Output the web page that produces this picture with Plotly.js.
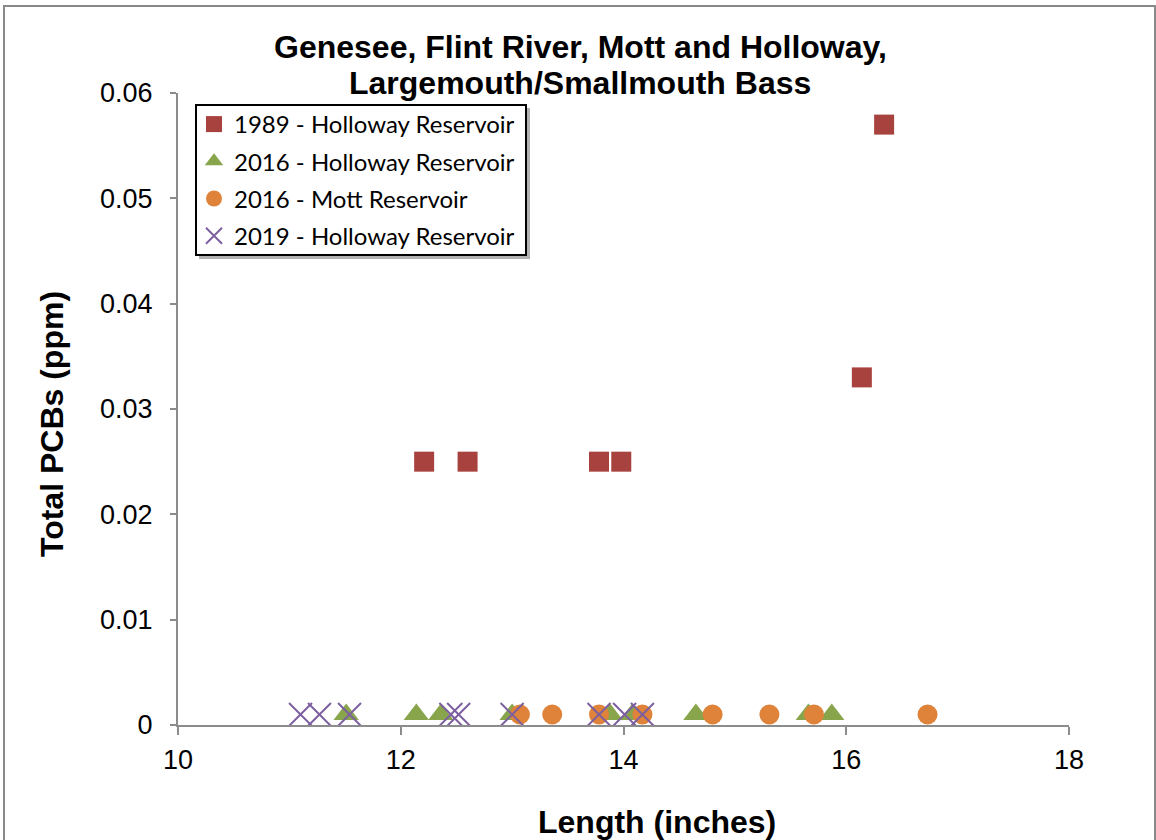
<!DOCTYPE html>
<html>
<head>
<meta charset="utf-8">
<script src="https://cdn.plot.ly/plotly-3.0.1.min.js"></script>
<style>html,body{margin:0;padding:0;background:#fff;}#chart{width:1156px;height:840px;}</style>
</head>
<body>
<div id="chart"></div>
<script>
// Data
const seriesNames = ["1989 - Holloway Reservoir", "2016 - Holloway Reservoir", "2016 - Mott Reservoir", "2019 - Holloway Reservoir"];

const holloway1989Length = [12.21, 12.60, 13.78, 13.98, 16.14, 16.34];
const holloway1989PCB    = [0.025, 0.025, 0.025, 0.025, 0.033, 0.057];

const holloway2016Length = [11.51, 12.14, 12.36, 13.00, 13.88, 14.08, 14.65, 15.66, 15.87];
const holloway2016PCB    = [0.001, 0.001, 0.001, 0.001, 0.001, 0.001, 0.001, 0.001, 0.001];

const mott2016Length = [13.07, 13.36, 13.78, 14.17, 14.80, 15.31, 15.71, 16.73];
const mott2016PCB    = [0.001, 0.001, 0.001, 0.001, 0.001, 0.001, 0.001, 0.001];

const holloway2019Length = [11.10, 11.27, 11.54, 12.45, 12.52, 13.00, 13.78, 14.01, 14.17];
const holloway2019PCB    = [0.001, 0.001, 0.001, 0.001, 0.001, 0.001, 0.001, 0.001, 0.001];

const xTicks = [10, 12, 14, 16, 18];
const yTicks = [0, 0.01, 0.02, 0.03, 0.04, 0.05, 0.06];
const yTickText = ["0", "0.01", "0.02", "0.03", "0.04", "0.05", "0.06"];

const titleLines = ["Genesee, Flint River, Mott and Holloway,", "Largemouth/Smallmouth Bass"];
const xTitle = "Length (inches)";
const yTitle = "Total PCBs (ppm)";

const traces = [
  {x: holloway1989Length, y: holloway1989PCB, name: seriesNames[0], legendgroup: "a",
   mode: "markers", type: "scatter",
   marker: {symbol: "square", size: 20, color: "#A8423F"}},
  {x: holloway2016Length, y: holloway2016PCB, name: seriesNames[1], legendgroup: "b",
   mode: "markers", type: "scatter",
   marker: {symbol: "triangle-up", size: 22, color: "#89A54B"}},
  {x: mott2016Length, y: mott2016PCB, name: seriesNames[2], legendgroup: "c",
   mode: "markers", type: "scatter",
   marker: {symbol: "circle", size: 20, color: "#DE8339"}},
  {x: holloway2019Length, y: holloway2019PCB, name: seriesNames[3], legendgroup: "d",
   mode: "markers", type: "scatter",
   marker: {symbol: "x-thin-open", size: 23, color: "#7D5FA0", line: {color: "#7D5FA0", width: 2}}}
];

const ARIAL = "Liberation Sans, Arial, sans-serif";
const axisFont = {family: ARIAL, size: 27, color: "#000"};
const boldFont = (s) => ({family: ARIAL, size: s, color: "#000", weight: "bold"});

const px2x = (p) => (p - 178) / 891;
const px2y = (p) => (725 - p) / 632;

const layout = {
  width: 1156, height: 840,
  margin: {l: 178, r: 87, t: 93, b: 115},
  paper_bgcolor: "#fff", plot_bgcolor: "#fff",
  xaxis: {
    range: [10, 18], tickvals: xTicks, ticktext: xTicks.map(String),
    showgrid: false, zeroline: false, showline: true, linecolor: "#8C8C8C", linewidth: 2,
    ticks: "outside", ticklen: 8, tickwidth: 2, tickcolor: "#8C8C8C",
    tickfont: axisFont, ticklabelstandoff: 2
  },
  yaxis: {
    range: [0, 0.06], tickvals: yTicks, ticktext: yTickText,
    showgrid: false, zeroline: false, showline: true, linecolor: "#8C8C8C", linewidth: 2,
    ticks: "outside", ticklen: 6, tickwidth: 2, tickcolor: "#8C8C8C",
    tickfont: axisFont, ticklabelstandoff: 12
  },
  showlegend: true,
  legend: {
    x: px2x(194), xanchor: "left", y: px2y(102), yanchor: "top",
    bgcolor: "rgba(0,0,0,0)", borderwidth: 0,
    font: {family: "Lato, Carlito, Calibri, sans-serif", size: 24, color: "#000"},
    tracegroupgap: 3
  },
  annotations: [
    {text: "<b>" + titleLines[0] + "</b>", xref: "paper", yref: "paper", x: px2x(580.5), y: px2y(47),
     xanchor: "center", yanchor: "middle", showarrow: false, font: boldFont(32)},
    {text: "<b>" + titleLines[1] + "</b>", xref: "paper", yref: "paper", x: px2x(580), y: px2y(83),
     xanchor: "center", yanchor: "middle", showarrow: false, font: boldFont(32)},
    {text: "<b>" + xTitle + "</b>", xref: "paper", yref: "paper", x: px2x(657), y: px2y(822),
     xanchor: "center", yanchor: "middle", showarrow: false, font: boldFont(32)},
    {text: "<b>" + yTitle + "</b>", xref: "paper", yref: "paper", x: px2x(52), y: px2y(424),
     xanchor: "center", yanchor: "middle", showarrow: false, textangle: -90, font: boldFont(32)}
  ],
  shapes: [
    {type: "rect", xref: "paper", yref: "paper", x0: px2x(4), x1: px2x(1155), y0: px2y(6), y1: px2y(860),
     line: {color: "#898989", width: 2}, fillcolor: "rgba(0,0,0,0)", layer: "below"},
    {type: "rect", xref: "paper", yref: "paper", x0: px2x(199), x1: px2x(530), y0: px2y(108), y1: px2y(259),
     line: {width: 0}, fillcolor: "rgba(0,0,0,0.3)", layer: "above"},
    {type: "rect", xref: "paper", yref: "paper", x0: px2x(196), x1: px2x(526), y0: px2y(105), y1: px2y(255),
     line: {color: "#000", width: 2}, fillcolor: "#fff", layer: "above"}
  ]
};

Plotly.newPlot("chart", traces, layout, {displayModeBar: false, staticPlot: true});
</script>
</body>
</html>
